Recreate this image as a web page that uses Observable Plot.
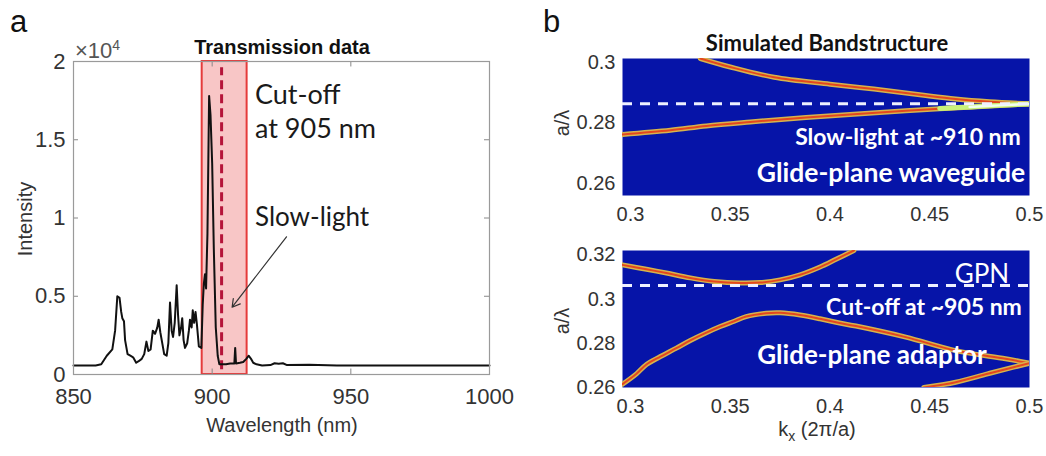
<!DOCTYPE html>
<html><head><meta charset="utf-8">
<script src="https://cdn.jsdelivr.net/npm/d3@7"></script>
<script src="https://cdn.jsdelivr.net/npm/@observablehq/plot@0.6"></script>
<style>
body{margin:0;background:#fff;}
#fig{position:relative;width:1046px;height:456px;overflow:hidden;background:#fff;}
.lab{position:absolute;white-space:nowrap;line-height:1;}
#fig svg{position:absolute;}
</style></head><body><div id="fig"></div>
<script>
// ---------- Panel a: transmission spectrum (intensity in units of 1e4) ----------
const spectrumNm = [850,858,860,862,864,865,865.8,866.6,867.2,867.6,868.2,868.6,869.5,870.5,871.5,872.6,873.5,874.6,875.5,876.3,877,877.8,878.6,879.4,880.2,880.7,881.3,882,882.7,883.6,884.2,884.8,885.4,885.9,886.5,887.2,887.7,888.2,888.8,889.2,889.7,890.2,891,891.6,892,892.6,893,893.5,894,894.5,895.2,896.1,896.6,897,897.4,897.8,898.3,898.9,899.4,900,900.6,901.3,902,902.6,905,906.5,908,908.3,908.6,910,911.2,912.3,913.2,914,914.8,916,918,921,922.5,924,925.5,927,935,945,1000];
const spectrumI  = [0.058,0.058,0.065,0.12,0.16,0.28,0.5,0.49,0.40,0.36,0.34,0.22,0.13,0.12,0.11,0.075,0.085,0.10,0.13,0.21,0.15,0.16,0.28,0.26,0.30,0.35,0.27,0.20,0.13,0.12,0.20,0.46,0.28,0.24,0.33,0.57,0.38,0.25,0.30,0.36,0.22,0.17,0.20,0.28,0.35,0.30,0.41,0.33,0.40,0.32,0.18,0.17,0.45,0.58,0.64,0.55,0.90,1.78,1.66,1.35,0.80,0.30,0.12,0.065,0.065,0.07,0.07,0.17,0.07,0.075,0.08,0.10,0.12,0.10,0.075,0.065,0.058,0.06,0.072,0.068,0.072,0.06,0.062,0.058,0.058];
const wavelengthTicks = [850, 900, 950, 1000];
const intensityTicks = [0, 0.5, 1, 1.5, 2];
const windowRange = [896.4, 912.6];    // shaded transmission window (nm)
const cutoffNm = [903.4];              // dashed cut-off line (nm)
const arrowAnno = [{x1: 926.8, y1: 0.88, x2: 907.2, y2: 0.43}];

// ---------- Panel b: simulated band structures ----------
const kTicks = [0.3, 0.35, 0.4, 0.45, 0.5];
const wgTicks = [0.26, 0.28, 0.3];
const adTicks = [0.26, 0.28, 0.3, 0.32];
const wgUpperK = [0.335,0.35,0.372,0.4,0.422,0.445,0.463,0.48,0.5];
const wgUpperF = [0.3013,0.2985,0.2951,0.2928,0.2912,0.2893,0.2879,0.2870,0.2863];
const wgLowerK = [0.296,0.32,0.338,0.36,0.388,0.41,0.438,0.4717,0.5];
const wgLowerF = [0.2762,0.2776,0.279,0.2803,0.2818,0.2828,0.284,0.2853,0.2863];
const wgGlowK = [0.455,0.47,0.485,0.5];
const wgGlowF = [0.2848,0.2853,0.2858,0.2863];
const wgSlowLight = [0.2863];
const adUpperK = [0.296,0.308,0.318,0.33,0.342,0.355,0.365,0.375,0.385,0.395,0.403,0.412];
const adUpperF = [0.3155,0.3135,0.3118,0.3096,0.308,0.3073,0.3075,0.3087,0.311,0.3145,0.318,0.322];
const adLowerK = [0.296,0.303,0.308,0.315,0.323,0.33,0.3375,0.345,0.352,0.358,0.368,0.375,0.385,0.395,0.403,0.413,0.438,0.463,0.488,0.5];
const adLowerF = [0.2615,0.2662,0.2704,0.274,0.2778,0.2813,0.2846,0.2876,0.29,0.2921,0.2936,0.2938,0.2928,0.2911,0.2895,0.2878,0.2828,0.2767,0.273,0.271];
const adThirdK = [0.447,0.463,0.479,0.492,0.5];
const adThirdF = [0.26,0.2624,0.2662,0.2692,0.271];
const adCutoff = [0.3062];

const zip = (xs, ys, name) => xs.map((x, i) => ({x, y: ys[i], band: name}));
const spectrum = zip(spectrumNm, spectrumI, "T");
const fig = document.getElementById("fig");
const fmt = d => String(+(+d).toFixed(3));
const sans = "'Liberation Sans', Arial, sans-serif";
const lato = "Lato, 'Open Sans', sans-serif";

function place(svg, left, top) {
  svg.style.left = left + "px"; svg.style.top = top + "px";
  svg.style.background = "transparent"; svg.style.maxWidth = "none";
  fig.appendChild(svg);
}

// Panel a
const pa = Plot.plot({
  width: 500, height: 440,
  marginLeft: 73, marginRight: 11, marginTop: 61, marginBottom: 66,
  style: {fontFamily: sans, fontSize: "22px", color: "#333", background: "transparent", overflow: "visible"},
  x: {domain: [850, 1000], ticks: wavelengthTicks, tickSize: 0, tickPadding: 14, label: null, tickFormat: fmt},
  y: {domain: [0, 2], ticks: intensityTicks, tickSize: 0, tickPadding: 8, label: null, tickFormat: fmt},
  marks: [
    Plot.rect([{a: windowRange[0], b: windowRange[1]}], {x1: "a", x2: "b", y1: 0, y2: 2, fill: "#f8c6c6", stroke: "#e53b3b", strokeWidth: 2}),
    Plot.ruleX(cutoffNm, {y1: 0.03, y2: 1.96, stroke: "#b5153a", strokeWidth: 3, strokeDasharray: "9,5"}),
    Plot.ruleX(wavelengthTicks, {y1: 0, y2: 0.035, stroke: "#888"}),
    Plot.ruleX(wavelengthTicks, {y1: 2, y2: 1.965, stroke: "#888"}),
    Plot.ruleY(intensityTicks, {x1: 850, x2: 851.8, stroke: "#888"}),
    Plot.ruleY(intensityTicks, {x1: 1000, x2: 998.2, stroke: "#888"}),
    Plot.line(spectrum, {x: "x", y: "y", stroke: "#111", strokeWidth: 2, curve: "linear"}),
    Plot.arrow(arrowAnno, {x1: "x1", y1: "y1", x2: "x2", y2: "y2", stroke: "#333", strokeWidth: 1.2, headLength: 11}),
    Plot.frame({stroke: "#9a9a9a", strokeWidth: 1.2})
  ]
});
place(pa, 0, 0);

const bg = "#0614a8";
function bandMarks(bands) {
  return bands.flatMap(b => [
    Plot.line(b, {x: "x", y: "y", stroke: "#d6b34c", strokeWidth: 5, curve: "catmull-rom", clip: true}),
    Plot.line(b, {x: "x", y: "y", stroke: "#e4461e", strokeWidth: 2, curve: "catmull-rom", clip: true})
  ]);
}

// Panel b top: glide-plane waveguide
const pbt = Plot.plot({
  width: 506, height: 230,
  marginLeft: 82, marginRight: 17, marginTop: 58, marginBottom: 35,
  style: {fontFamily: sans, fontSize: "20px", color: "#333", background: "transparent", overflow: "visible"},
  x: {domain: [0.296, 0.5], ticks: kTicks, tickSize: 0, tickPadding: 11, label: null, tickFormat: fmt},
  y: {domain: [0.256, 0.3013], ticks: wgTicks, tickSize: 0, tickPadding: 7, label: null, tickFormat: fmt},
  marks: [
    Plot.frame({fill: bg}),
    ...bandMarks([zip(wgUpperK, wgUpperF, "u"), zip(wgLowerK, wgLowerF, "l")]),
    Plot.line(zip(wgGlowK, wgGlowF, "g"), {x: "x", y: "y", stroke: "#c9f27a", strokeWidth: 5, curve: "catmull-rom", clip: true}),
    Plot.line(zip(wgGlowK.slice(1), wgGlowF.slice(1), "g"), {x: "x", y: "y", stroke: "#f2fff0", strokeWidth: 2.5, curve: "catmull-rom", clip: true}),
    Plot.ruleY(wgSlowLight, {stroke: "#eef0ff", strokeWidth: 3, strokeDasharray: "10,8"})
  ]
});
place(pbt, 540, 0);

// Panel b bottom: glide-plane adaptor
const pbb = Plot.plot({
  width: 506, height: 226,
  marginLeft: 82, marginRight: 17, marginTop: 20, marginBottom: 69,
  style: {fontFamily: sans, fontSize: "20px", color: "#333", background: "transparent", overflow: "visible"},
  x: {domain: [0.296, 0.5], ticks: kTicks, tickSize: 0, tickPadding: 11, label: null, tickFormat: fmt},
  y: {domain: [0.26, 0.322], ticks: adTicks, tickSize: 0, tickPadding: 7, label: null, tickFormat: fmt},
  marks: [
    Plot.frame({fill: bg}),
    ...bandMarks([zip(adUpperK, adUpperF, "u"), zip(adLowerK, adLowerF, "l"), zip(adThirdK, adThirdF, "t")]),
    Plot.ruleY(adCutoff, {stroke: "#eef0ff", strokeWidth: 3, strokeDasharray: "10,8"})
  ]
});
place(pbb, 540, 230);

// ---------- Text labels ----------
function label(html, o) {
  const d = document.createElement("div");
  d.className = "lab";
  d.innerHTML = html;
  d.style.left = o.x + "px"; d.style.top = o.y + "px";
  d.style.fontFamily = o.family || sans;
  d.style.fontSize = o.size + "px";
  d.style.fontWeight = o.weight || 400;
  d.style.color = o.color || "#222";
  const tx = o.anchor === "start" ? "0" : "-50%";
  d.style.transform = `translate(${tx},-50%)`;
  fig.appendChild(d);
  if (o.rotate) { // center rotated element around (x,y)
    d.style.transform = "";
    const w = d.offsetWidth, h = d.offsetHeight;
    d.style.left = (o.x - w / 2) + "px"; d.style.top = (o.y - h / 2) + "px";
    d.style.transformOrigin = "50% 50%";
    d.style.transform = `rotate(${o.rotate}deg)`;
  }
  return d;
}
label("a", {x: 10, y: 21, size: 31, anchor: "start", color: "#111"});
label("b", {x: 543, y: 21, size: 31, anchor: "start", color: "#111"});
label("Transmission data", {x: 282, y: 47, size: 20, weight: 700, color: "#111"});
label("×10<sup style='font-size:14px;vertical-align:8px'>4</sup>", {x: 75, y: 50, size: 22, anchor: "start", color: "#555"});
label("Cut-off", {x: 255, y: 93, size: 27, family: lato, anchor: "start", color: "#1a1a1a"});
label("at 905 nm", {x: 255, y: 127, size: 27, family: lato, anchor: "start", color: "#1a1a1a"});
label("Slow-light", {x: 255, y: 216, size: 26, family: lato, anchor: "start", color: "#1a1a1a"});
label("Intensity", {x: 25, y: 219, size: 20, rotate: -90, color: "#333"});
label("Wavelength (nm)", {x: 282, y: 425, size: 20, color: "#333"});

label("Simulated Bandstructure", {x: 827, y: 43, size: 22, weight: 700, family: lato, color: "#111"});
label("a/λ", {x: 562, y: 123, size: 20, rotate: -90, color: "#333"});
label("a/λ", {x: 562, y: 321, size: 20, rotate: -90, color: "#333"});
label("k<sub style='font-size:14px;vertical-align:-5px'>x</sub> (2π/a)", {x: 817, y: 431, size: 20, color: "#333"});
label("Slow-light at ~910 nm", {x: 908, y: 136, size: 23, weight: 700, family: lato, color: "#fff"});
label("Glide-plane waveguide", {x: 891, y: 172, size: 26.5, weight: 700, family: lato, color: "#fff"});
label("GPN", {x: 982, y: 273, size: 26, family: lato, color: "#fff"});
label("Cut-off at ~905 nm", {x: 924, y: 306, size: 23, weight: 700, family: lato, color: "#fff"});
label("Glide-plane adaptor", {x: 872, y: 354, size: 26, weight: 700, family: lato, color: "#fff"});
</script>
</body></html>
